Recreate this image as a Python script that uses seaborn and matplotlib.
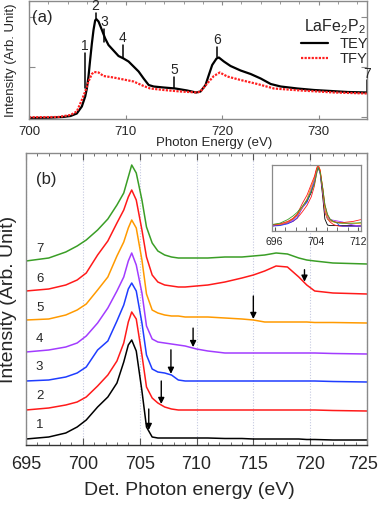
import numpy as np
import pandas as pd
import matplotlib
matplotlib.use('Agg')
import matplotlib.pyplot as plt
import seaborn as sns
from matplotlib.ticker import MultipleLocator, FuncFormatter

sns.set_style('ticks')
plt.rcParams['font.family'] = ['Liberation Sans', 'DejaVu Sans']
plt.rcParams['mathtext.fontset'] = 'custom'
plt.rcParams['mathtext.rm'] = 'Liberation Sans'
plt.rcParams['mathtext.it'] = 'Liberation Sans:italic'

# ---------------------------------------------------------
# Panel (a): absorption spectra
# ---------------------------------------------------------
tey_e = [700, 702, 703.5, 704.3, 704.95, 705.47, 705.82, 705.99, 706.16, 706.33,
         706.51, 706.68, 706.85, 706.96, 707.2, 707.55, 707.89, 708.23, 708.75, 709.27,
         709.79, 710.31, 710.83, 711.35, 711.87, 712.39, 712.91, 713.95, 715.16, 716.38,
         717.3, 717.76, 718.28, 718.62, 718.97, 719.42, 719.66, 720.18, 720.87, 721.91,
         722.95, 723.99, 725.03, 726.06, 727.8, 729.52, 731.26, 732.99, 735.0]
tey_i = [-0.02, -0.015, 0.0, 0.02, 0.07, 0.21, 0.41, 0.57, 0.81, 1.14,
         1.47, 1.74, 1.93, 1.96, 1.91, 1.74, 1.57, 1.44, 1.33, 1.22,
         1.17, 1.11, 1.01, 0.91, 0.77, 0.64, 0.61, 0.59, 0.57, 0.53,
         0.49, 0.51, 0.64, 0.84, 1.04, 1.17, 1.19, 1.11, 1.02, 0.93,
         0.86, 0.77, 0.66, 0.61, 0.57, 0.54, 0.52, 0.50, 0.49]

tfy_e = [700, 703, 704.3, 704.95, 705.47, 705.82, 706.16, 706.51, 706.75, 707.2,
         707.72, 708.75, 709.79, 710.83, 711.87, 712.56, 713.95, 715.68, 717.41, 717.76,
         718.45, 719.14, 719.76, 720.53, 721.91, 723.64, 725.37, 728.14, 731.6, 735.0]
tfy_i = [-0.005, 0.0, 0.04, 0.11, 0.34, 0.51, 0.71, 0.86, 0.90, 0.89,
         0.82, 0.79, 0.75, 0.71, 0.62, 0.57, 0.54, 0.51, 0.49, 0.51,
         0.67, 0.82, 0.89, 0.81, 0.74, 0.66, 0.57, 0.53, 0.49, 0.47]

# excitation energies (markers 1-7)
exc_e = [705.8, 706.9, 707.75, 709.7, 715.0, 719.5, 735.0]
exc_lab = ['1', '2', '3', '4', '5', '6', '7']
mark_lo = [0.58, 1.98, 1.50, 1.18, 0.58, 1.20, 0.50]
mark_hi = [1.28, 2.08, 1.76, 1.44, 0.80, 1.40, 0.74]

# ---------------------------------------------------------
# Panel (b): emission spectra
# ---------------------------------------------------------
det_e = [695, 697, 698.5, 699.5, 700.3, 701.3, 702.2, 703.0, 703.6, 704.0,
         704.3, 704.7, 705.2, 705.6, 706.1, 706.6, 707.2, 707.8, 708.4, 709.0,
         710, 711, 712.5, 714, 715, 716, 717, 718, 719, 719.7,
         720.4, 722, 725]
spec1 = [0.00, 0.02, 0.06, 0.12, 0.19, 0.32, 0.42, 0.56, 0.77, 0.94,
         0.99, 0.88, 0.48, 0.12, 0.02, 0.01, 0.01, 0.01, 0.01, 0.01,
         0.01, 0.01, 0.005, 0.005, 0.0, 0.0, 0.0, 0.0, 0.0, -0.005,
         -0.005, -0.01, -0.01]
spec2 = [0.00, 0.02, 0.05, 0.08, 0.13, 0.24, 0.35, 0.49, 0.67, 0.88,
         0.98, 0.91, 0.55, 0.23, 0.12, 0.07, 0.03, 0.01, 0.0, 0.0,
         0.0, 0.0, 0.0, 0.0, 0.0, 0.0, 0.0, 0.0, 0.0, 0.0,
         0.0, -0.005, -0.01]
spec3 = [0.00, 0.01, 0.04, 0.08, 0.14, 0.31, 0.40, 0.60, 0.76, 0.92,
         0.98, 0.90, 0.58, 0.26, 0.12, 0.09, 0.08, 0.06, 0.01, 0.0,
         0.0, 0.0, 0.0, 0.0, 0.0, 0.0, 0.0, 0.0, 0.0, 0.0,
         0.0, -0.005, -0.01]
spec4 = [0.01, 0.03, 0.06, 0.10, 0.17, 0.30, 0.45, 0.62, 0.76, 0.92,
         1.00, 0.88, 0.60, 0.27, 0.14, 0.11, 0.10, 0.09, 0.08, 0.07,
         0.04, 0.02, 0.0, 0.0, 0.0, 0.0, 0.0, 0.0, 0.0, 0.0,
         0.0, -0.005, -0.01]
spec5 = [0.02, 0.03, 0.07, 0.12, 0.18, 0.32, 0.45, 0.66, 0.80, 0.94,
         1.02, 0.94, 0.62, 0.28, 0.12, 0.09, 0.07, 0.06, 0.06, 0.05,
         0.05, 0.05, 0.04, 0.03, 0.02, 0.0, 0.0, 0.0, 0.0, 0.0,
         -0.005, -0.005, -0.01]
spec6 = [0.02, 0.04, 0.08, 0.13, 0.20, 0.38, 0.52, 0.70, 0.83, 0.96,
         1.03, 0.93, 0.63, 0.36, 0.18, 0.11, 0.08, 0.07, 0.06, 0.06,
         0.07, 0.08, 0.11, 0.15, 0.18, 0.22, 0.27, 0.26, 0.16, 0.08,
         0.02, 0.0, -0.01]
spec7 = [0.02, 0.05, 0.11, 0.17, 0.23, 0.33, 0.44, 0.58, 0.70, 0.86,
         0.98, 0.90, 0.63, 0.36, 0.20, 0.12, 0.08, 0.06, 0.05, 0.05,
         0.05, 0.05, 0.06, 0.06, 0.07, 0.08, 0.10, 0.09, 0.05, 0.03,
         0.02, 0.0, -0.01]
spec_colors = ['black', '#ff1a1a', '#1f3dff', '#a23cff', '#ff9a00', '#ff1a1a', '#3a9e26']
offsets = [0.0, 0.29, 0.58, 0.86, 1.17, 1.46, 1.76]
arrow_len = [0.21, 0.23, 0.24, 0.19, 0.23, 0.12]

fig = plt.figure(figsize=(3.8, 5.07), dpi=100)
W, H = 380.0, 507.0
ax_a = fig.add_axes([29 / W, 1 - 119 / H, 338 / W, 118 / H])
ax_b = fig.add_axes([26 / W, 1 - 445 / H, 341 / W, 292 / H])
ax_in = fig.add_axes([272 / W, 1 - 231 / H, 89 / W, 66 / H])

frame_col = '#8a8a8a'

# ---- panel (a)
df_tey = pd.DataFrame({'E': tey_e, 'I': tey_i})
df_tfy = pd.DataFrame({'E': tfy_e, 'I': tfy_i})
sns.lineplot(data=df_tey, x='E', y='I', color='black', lw=1.6, ax=ax_a, label='TEY')
sns.lineplot(data=df_tfy, x='E', y='I', color='#ff2020', lw=1.6, ls=(0, (1, 0.6)),
             ax=ax_a, label='TFY')
for e, lab, lo, hi in zip(exc_e, exc_lab, mark_lo, mark_hi):
    ax_a.plot([e, e], [lo, hi], color='black', lw=1.1, clip_on=False)
    ax_a.text(e, hi + 0.05, lab, ha='center', va='baseline', fontsize=10)

ax_a.set_xlim(700, 735)
ax_a.set_ylim(-0.04, 2.32)
ax_a.set_xticks([700, 710, 720, 730])
ax_a.xaxis.set_minor_locator(MultipleLocator(2))
ax_a.set_yticks([0, 1, 2])
ax_a.set_yticklabels([])
ax_a.tick_params(axis='x', which='major', direction='in', length=3, labelsize=9.5, pad=5,
                 top=True, color=frame_col)
ax_a.tick_params(axis='x', which='minor', direction='in', length=2, top=True, bottom=False,
                 color=frame_col)
ax_a.tick_params(axis='y', direction='in', length=4, left=True, right=True, color=frame_col)
ax_a.set_xlabel('Photon Energy (eV)', fontsize=9.5)
ax_a.xaxis.set_label_coords(0.547, -0.15)
ax_a.set_ylabel('Intensity (Arb. Unit)', fontsize=9.5)
ax_a.yaxis.set_label_coords(-0.036, 0.5)
for s in ax_a.spines.values():
    s.set_color(frame_col)
    s.set_linewidth(1.0)
ax_a.text(0.01, 0.86, '(a)', transform=ax_a.transAxes, fontsize=12, ha='left', va='center')
ax_a.legend(title='LaFe$_2$P$_2$', loc='upper right', bbox_to_anchor=(1.03, 0.94),
            frameon=False, fontsize=10.5, title_fontsize=11.5, handlelength=1.9,
            handletextpad=0.8, labelspacing=0.1, borderpad=0.1)

# ---- panel (b)
specs = [spec1, spec2, spec3, spec4, spec5, spec6, spec7]
rows = []
for k, (sp, off) in enumerate(zip(specs, offsets)):
    for e, v in zip(det_e, sp):
        rows.append({'E': e, 'I': v + off, 'raw': v, 'curve': str(k + 1)})
df_b = pd.DataFrame(rows)
pal = dict(zip([str(k + 1) for k in range(7)], spec_colors))

sns.lineplot(data=df_b, x='E', y='I', hue='curve', palette=pal, lw=1.1, ax=ax_b,
             legend=False)
for k, off in enumerate(offsets):
    ax_b.text(696.2, off + 0.14, str(k + 1), ha='center', va='center', fontsize=9.5)
for k in range(6):
    e = exc_e[k]
    tip = offsets[k] + np.interp(e, det_e, specs[k]) + 0.01
    ax_b.annotate('', xy=(e, tip), xytext=(e, tip + arrow_len[k]),
                  arrowprops=dict(arrowstyle='-|>', color='black', lw=1.0,
                                  mutation_scale=9, shrinkA=0, shrinkB=0))

xmax_b = 725
ax_b.set_xlim(695, xmax_b)
ax_b.set_ylim(-0.06, 2.86)
ax_b.xaxis.set_major_locator(MultipleLocator(5))
ax_b.xaxis.set_minor_locator(MultipleLocator(1))
# the last label is drawn by hand, nudged left to stay inside the figure
ax_b.xaxis.set_major_formatter(FuncFormatter(
    lambda v, p: '' if abs(v - xmax_b) < 1e-6 else f'{v:.0f}'))
ax_b.annotate(f'{xmax_b}', xy=(xmax_b, 0), xycoords=('data', 'axes fraction'),
              xytext=(-3, -8), textcoords='offset points', ha='center', va='top',
              fontsize=13)
ax_b.set_yticks([])
ax_b.grid(axis='x', which='major', color='#c5c9e0', ls=(0, (1, 1.5)), lw=0.8)
ax_b.tick_params(axis='x', which='major', direction='in', length=5, labelsize=13, pad=8,
                 top=True, color='#555555')
ax_b.tick_params(axis='x', which='minor', direction='in', length=2.5, top=True,
                 color='#555555')
ax_b.set_xlabel('Det. Photon energy (eV)', fontsize=14)
ax_b.xaxis.set_label_coords(0.48, -0.127)
ax_b.set_ylabel('Intensity (Arb. Unit)', fontsize=14)
ax_b.yaxis.set_label_coords(-0.026, 0.5)
for s in ax_b.spines.values():
    s.set_color(frame_col)
    s.set_linewidth(1.0)
ax_b.spines['bottom'].set_color('#333333')
ax_b.text(0.028, 0.908, '(b)', transform=ax_b.transAxes, fontsize=12, ha='left', va='center')

# ---- inset: normalised overlay
sns.lineplot(data=df_b, x='E', y='raw', hue='curve', palette=pal, lw=0.6, ax=ax_in,
             legend=False)
ax_in.set_xlim(695.5, 712.5)
ax_in.set_ylim(-0.08, 1.02)
ax_in.set_xticks([696, 704, 712])
ax_in.xaxis.set_minor_locator(MultipleLocator(2))
ax_in.set_yticks([])
ax_in.set_xlabel('')
ax_in.set_ylabel('')
ax_in.tick_params(axis='x', which='both', direction='in', length=3, labelsize=7.5, pad=4,
                  color='#555555')
for s in ax_in.spines.values():
    s.set_color(frame_col)
    s.set_linewidth(0.9)

fig.savefig('out.png', dpi=100)
